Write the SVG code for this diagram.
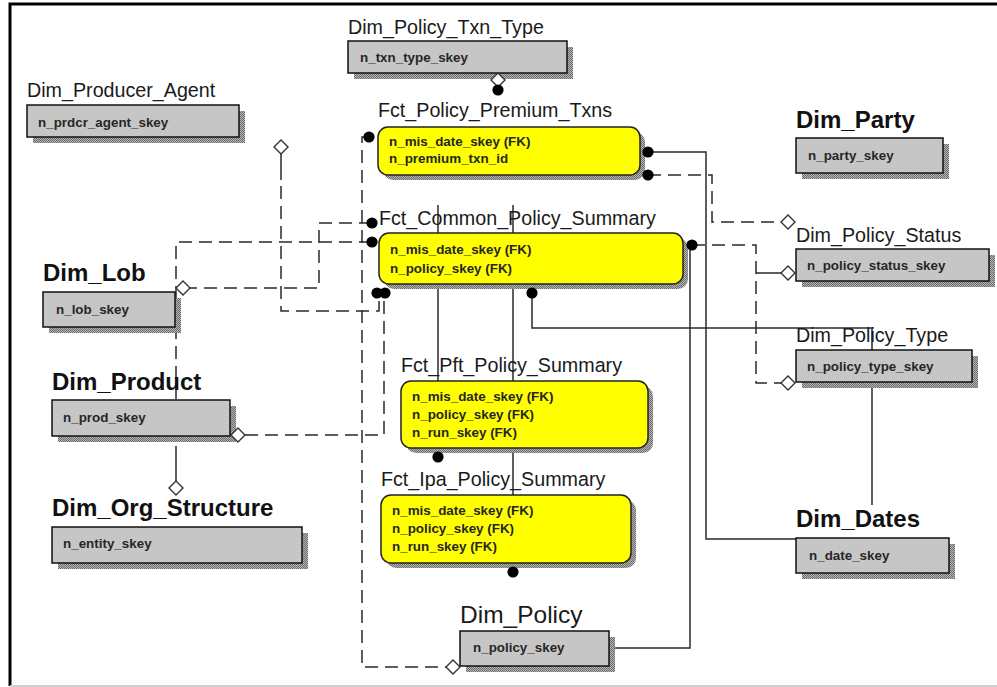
<svg xmlns="http://www.w3.org/2000/svg" xmlns:xlink="http://www.w3.org/1999/xlink" width="997" height="687" viewBox="0 0 997 687">
  <style>
    .frame { stroke: #000; stroke-width: 3; fill: none; }
    .lbl { font-family: "Liberation Sans", Arial, sans-serif; font-size: 19.7px; fill: #1a1a1a; }
    .lblb { font-family: "Liberation Sans", Arial, sans-serif; font-size: 24px; font-weight: bold; fill: #111; }
    .lbl-big { font-family: "Liberation Sans", Arial, sans-serif; font-size: 24.5px; fill: #1a1a1a; }
    .fld { font-family: "Liberation Sans", Arial, sans-serif; font-size: 13.4px; font-weight: bold; fill: #262626; }
    .dim { fill: #c6c6c6; stroke: #111; stroke-width: 1.5; }
    .fct { fill: #ffff00; stroke: #222; stroke-width: 1.5; }
    .shadow { fill: url(#dither); }
    .ln { fill: none; stroke: #2a2a2a; stroke-width: 1.5; }
    .dash { stroke-dasharray: 13 7; }
    .dot { fill: #000; }
    .dia { fill: #fff; stroke: #333; stroke-width: 1.4; }
  </style>
  <defs>
    <pattern id="dither" width="2" height="2" patternUnits="userSpaceOnUse">
      <rect width="2" height="2" fill="#b8b8b8"/>
      <rect width="1" height="1" fill="#6a6a6a"/>
      <rect x="1" y="1" width="1" height="1" fill="#6a6a6a"/>
    </pattern>
    <path id="diamond" class="dia" d="M0,-7 L7,0 L0,7 L-7,0 Z"/>
    <circle id="blob" class="dot" r="5.6"/>
  </defs>

  <rect width="997" height="687" fill="#fff"/>
  <!-- page frame -->
  <path class="frame" d="M10,686 V4 H997"/>
  <line x1="10" y1="686" x2="997" y2="686" stroke="#d0d0d0" stroke-width="2"/>

  <!-- relationship lines -->
  <g id="connectors">
    <path class="ln" d="M498,73 V90"/>
    <path class="ln" d="M648,152 H706 V539 H796"/>
    <path class="ln dash" d="M648,175 H712 V222 H781"/>
    <path class="ln dash" d="M369,137 H362 V667 H446"/>
    <path class="ln dash" d="M372,223 H319 V288 H190"/>
    <path class="ln dash" d="M372,242 H176 V455"/>
    <path class="ln" d="M176,455 V481"/>
    <path class="ln" d="M281,154 V180"/>
    <path class="ln dash" d="M281,186 V311 H379 V298"/>
    <path class="ln dash" d="M245,435 H384 V298"/>
    <path class="ln dash" d="M692,245 H756 V383 H781"/>
    <path class="ln" d="M756,273 H781"/>
    <path class="ln" d="M690,250 V648 H609"/>
    <path class="ln" d="M532,293 V328 H872 V350"/>
    <path class="ln" d="M872,382 V505"/>
    <path class="ln" d="M438,205 V381"/>
    <path class="ln" d="M513,205 V381"/>
    <path class="ln" d="M513,448 V495"/>
  </g>

  <g id="dim-policy-txn-type">
    <text class="lbl" x="348" y="34">Dim_Policy_Txn_Type</text>
    <rect class="shadow" x="354" y="47" width="219" height="32"/>
    <rect class="dim" x="348" y="41" width="219" height="32"/>
    <text class="fld" x="360" y="62">n_txn_type_skey</text>
  </g>

  <g id="dim-producer-agent">
    <text class="lbl" x="27" y="97">Dim_Producer_Agent</text>
    <rect class="shadow" x="33" y="111" width="212" height="32"/>
    <rect class="dim" x="27" y="105" width="212" height="32"/>
    <text class="fld" x="38" y="127">n_prdcr_agent_skey</text>
  </g>

  <g id="fct-policy-premium-txns">
    <text class="lbl" x="378" y="117">Fct_Policy_Premium_Txns</text>
    <rect class="shadow" x="383" y="132" width="262" height="48" rx="10"/>
    <rect class="fct" x="378" y="127" width="262" height="48" rx="10"/>
    <text class="fld" x="389" y="146">n_mis_date_skey (FK)</text>
    <text class="fld" x="389" y="163">n_premium_txn_id</text>
  </g>

  <g id="dim-party">
    <text class="lblb" x="796" y="128">Dim_Party</text>
    <rect class="shadow" x="802" y="144" width="147" height="35"/>
    <rect class="dim" x="796" y="138" width="147" height="35"/>
    <text class="fld" x="808" y="160">n_party_skey</text>
  </g>

  <g id="fct-common-policy-summary">
    <text class="lbl" x="379" y="225">Fct_Common_Policy_Summary</text>
    <rect class="shadow" x="384" y="238" width="304" height="51" rx="10"/>
    <rect class="fct" x="379" y="233" width="304" height="51" rx="10"/>
    <text class="fld" x="390" y="254">n_mis_date_skey (FK)</text>
    <text class="fld" x="390" y="273">n_policy_skey (FK)</text>
  </g>

  <g id="dim-policy-status">
    <text class="lbl" x="796" y="242">Dim_Policy_Status</text>
    <rect class="shadow" x="802" y="255" width="193" height="32"/>
    <rect class="dim" x="796" y="249" width="193" height="32"/>
    <text class="fld" x="807" y="270">n_policy_status_skey</text>
  </g>

  <g id="dim-lob">
    <text class="lblb" x="43" y="281">Dim_Lob</text>
    <rect class="shadow" x="49" y="298" width="132" height="35"/>
    <rect class="dim" x="43" y="292" width="132" height="35"/>
    <text class="fld" x="56" y="314">n_lob_skey</text>
  </g>

  <g id="dim-policy-type">
    <text class="lbl" x="796" y="342">Dim_Policy_Type</text>
    <rect class="shadow" x="802" y="356" width="176" height="32"/>
    <rect class="dim" x="796" y="350" width="176" height="32"/>
    <text class="fld" x="807" y="371">n_policy_type_skey</text>
  </g>

  <g id="fct-pft-policy-summary">
    <text class="lbl" x="401" y="372">Fct_Pft_Policy_Summary</text>
    <rect class="shadow" x="406" y="386" width="247" height="67" rx="10"/>
    <rect class="fct" x="401" y="381" width="247" height="67" rx="10"/>
    <text class="fld" x="412" y="401">n_mis_date_skey (FK)</text>
    <text class="fld" x="412" y="419">n_policy_skey (FK)</text>
    <text class="fld" x="412" y="437">n_run_skey (FK)</text>
  </g>

  <g id="dim-product">
    <text class="lblb" x="52" y="390">Dim_Product</text>
    <rect class="shadow" x="58" y="406" width="178" height="36"/>
    <rect class="dim" x="52" y="400" width="178" height="36"/>
    <text class="fld" x="63" y="422">n_prod_skey</text>
  </g>

  <g id="fct-ipa-policy-summary">
    <text class="lbl" x="381" y="486">Fct_Ipa_Policy_Summary</text>
    <rect class="shadow" x="386" y="500" width="250" height="68" rx="10"/>
    <rect class="fct" x="381" y="495" width="250" height="68" rx="10"/>
    <text class="fld" x="392" y="515">n_mis_date_skey (FK)</text>
    <text class="fld" x="392" y="533">n_policy_skey (FK)</text>
    <text class="fld" x="392" y="551">n_run_skey (FK)</text>
  </g>

  <g id="dim-org-structure">
    <text class="lblb" x="52" y="516">Dim_Org_Structure</text>
    <rect class="shadow" x="58" y="533" width="250" height="36"/>
    <rect class="dim" x="52" y="527" width="250" height="36"/>
    <text class="fld" x="63" y="548">n_entity_skey</text>
  </g>

  <g id="dim-dates">
    <text class="lblb" x="796" y="527">Dim_Dates</text>
    <rect class="shadow" x="802" y="544" width="153" height="35"/>
    <rect class="dim" x="796" y="538" width="153" height="35"/>
    <text class="fld" x="809" y="560">n_date_skey</text>
  </g>

  <g id="dim-policy">
    <text class="lbl-big" x="460" y="623">Dim_Policy</text>
    <rect class="shadow" x="466" y="637" width="149" height="35"/>
    <rect class="dim" x="460" y="631" width="149" height="35"/>
    <text class="fld" x="473" y="652">n_policy_skey</text>
  </g>

  <!-- relationship ends: open diamonds on the parent side, filled blobs on the child side -->
  <g id="connector-ends">
    <use href="#diamond" x="498" y="80"/>
    <use href="#diamond" x="281" y="147"/>
    <use href="#diamond" x="788" y="222"/>
    <use href="#diamond" x="788" y="273"/>
    <use href="#diamond" x="788" y="383"/>
    <use href="#diamond" x="183" y="288"/>
    <use href="#diamond" x="238" y="435"/>
    <use href="#diamond" x="176" y="488"/>
    <use href="#diamond" x="453" y="667"/>
    <use href="#blob" x="498" y="90"/>
    <use href="#blob" x="369" y="137"/>
    <use href="#blob" x="648" y="152"/>
    <use href="#blob" x="648" y="175"/>
    <use href="#blob" x="372" y="223"/>
    <use href="#blob" x="372" y="242"/>
    <use href="#blob" x="377" y="293"/>
    <use href="#blob" x="385" y="293"/>
    <use href="#blob" x="532" y="293"/>
    <use href="#blob" x="692" y="245"/>
    <use href="#blob" x="438" y="457"/>
    <use href="#blob" x="513" y="572"/>
  </g>
</svg>
